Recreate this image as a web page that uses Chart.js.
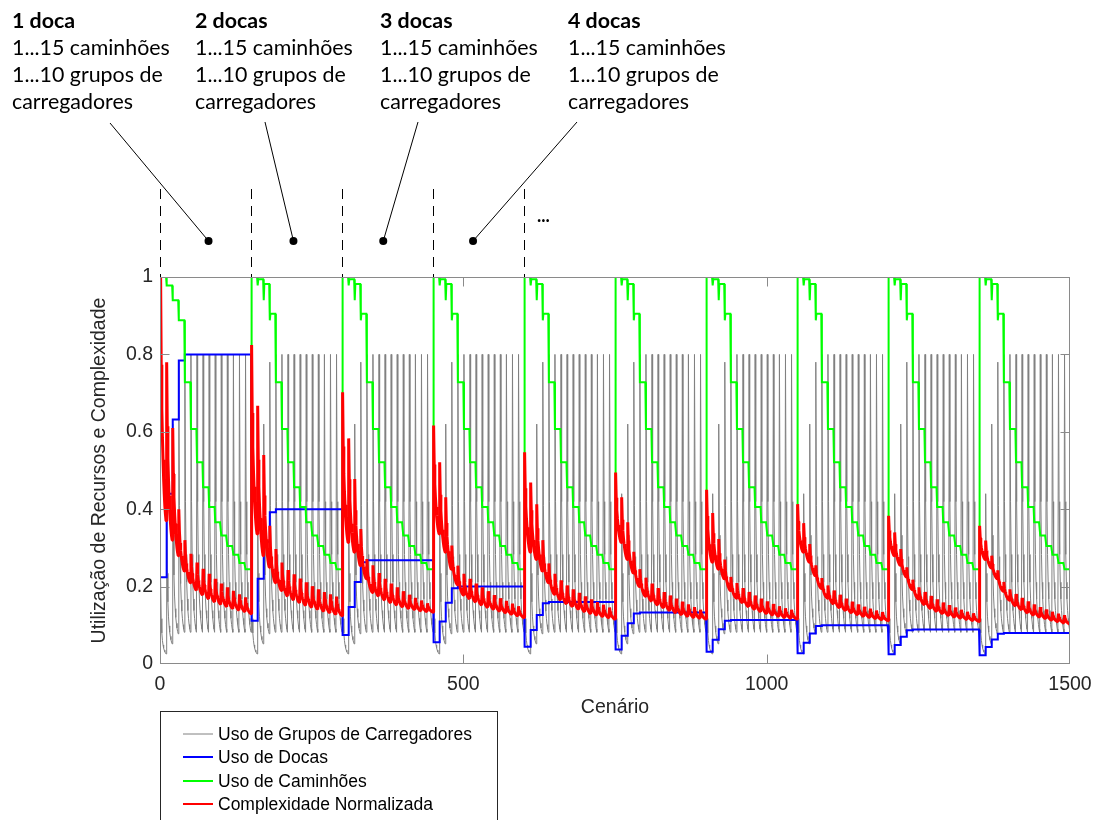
<!DOCTYPE html>
<html>
<head>
<meta charset="utf-8">
<script src="https://cdn.jsdelivr.net/npm/chart.js@4.4.1/dist/chart.umd.min.js"></script>
<style>
  html, body { margin: 0; padding: 0; background: #fff; }
  #wrap { position: relative; width: 1095px; height: 820px; }
</style>
</head>
<body>
<div id="wrap"><canvas id="grafico" width="1095" height="820"></canvas></div>
<script>
// cenários: 10 docas x 15 caminhões x 10 grupos de carregadores
const nDocas = 10, nCaminhoes = 15, nGrupos = 10;
const ticksX = [0, 500, 1000, 1500];
const ticksY = [0, 0.2, 0.4, 0.6, 0.8, 1];

// queda dentro de cada grupo de 10 cenários (1..10 grupos de carregadores)
const formaGrupo = [1, 0.47, 0.28, 0.18, 0.12, 0.078, 0.05, 0.028, 0.012, 0];
// o mesmo para a complexidade, que desce de forma mais regular
const formaComplex = [1, 0.64, 0.46, 0.34, 0.25, 0.17, 0.11, 0.06, 0.025, 0];

// uso de grupos de carregadores por nº de caminhões (1 grupo / 10 grupos)
const picoGrupos  = [0.22, 0.44, 0.62, 0.78, 0.80, 0.80, 0.80, 0.80, 0.80, 0.80, 0.80, 0.80, 0.80, 0.80, 0.80];
const fundoGrupos = [0.026, 0.052, 0.078, 0.082, 0.082, 0.082, 0.082, 0.082, 0.082, 0.082, 0.082, 0.082, 0.082, 0.082, 0.082];

// uso de docas: patamar de cada bloco e subida com os primeiros caminhões
const patamarDocas = [0.80, 0.40, 0.268, 0.20, 0.16, 0.133, 0.114, 0.10, 0.089, 0.08];
const rampaDocas = [0.28, 0.55, 0.79, 0.98, 1, 1, 1, 1, 1, 1, 1, 1, 1, 1, 1];

// uso de caminhões (1º cenário de cada grupo / demais cenários a partir de 2 docas)
const caminhoesPrimeiro = [1.00, 0.978, 0.94, 0.888, 0.728, 0.607, 0.521, 0.457, 0.406, 0.366, 0.332, 0.305, 0.282, 0.261, 0.245];
const caminhoesDemais   = [1.00, 0.994, 0.982, 0.905, 0.728, 0.607, 0.521, 0.457, 0.406, 0.366, 0.332, 0.305, 0.282, 0.261, 0.245];

// complexidade normalizada: topo (1 grupo) e base (10 grupos), uma linha por bloco de docas
const complexTopo = [
  [1.00, 0.78, 0.61, 0.40, 0.32, 0.285, 0.262, 0.246, 0.233, 0.22, 0.208, 0.198, 0.189, 0.18, 0.172],
  [0.824, 0.667, 0.54, 0.357, 0.297, 0.262, 0.243, 0.232, 0.221, 0.211, 0.201, 0.193, 0.186, 0.18, 0.174],
  [0.702, 0.583, 0.478, 0.349, 0.271, 0.255, 0.235, 0.22, 0.208, 0.198, 0.188, 0.179, 0.171, 0.164, 0.157],
  [0.616, 0.521, 0.431, 0.306, 0.254, 0.233, 0.22, 0.208, 0.198, 0.188, 0.178, 0.17, 0.163, 0.156, 0.149],
  [0.547, 0.469, 0.413, 0.32, 0.26, 0.233, 0.216, 0.203, 0.193, 0.184, 0.175, 0.167, 0.16, 0.153, 0.146],
  [0.495, 0.431, 0.366, 0.29, 0.245, 0.223, 0.208, 0.196, 0.186, 0.177, 0.169, 0.161, 0.154, 0.147, 0.14],
  [0.45, 0.39, 0.323, 0.27, 0.225, 0.209, 0.196, 0.186, 0.177, 0.169, 0.162, 0.155, 0.149, 0.144, 0.14],
  [0.413, 0.364, 0.31, 0.255, 0.222, 0.203, 0.19, 0.179, 0.169, 0.161, 0.154, 0.148, 0.143, 0.138, 0.134],
  [0.383, 0.34, 0.297, 0.25, 0.218, 0.198, 0.186, 0.176, 0.167, 0.159, 0.152, 0.146, 0.14, 0.135, 0.131],
  [0.357, 0.319, 0.28, 0.242, 0.212, 0.193, 0.181, 0.171, 0.162, 0.154, 0.147, 0.141, 0.135, 0.13, 0.126]
];
const complexBase = [
  [0.37, 0.32, 0.28, 0.24, 0.21, 0.19, 0.178, 0.168, 0.16, 0.154, 0.148, 0.143, 0.139, 0.135, 0.13],
  [0.336, 0.28, 0.25, 0.21, 0.19, 0.175, 0.165, 0.158, 0.151, 0.146, 0.141, 0.136, 0.132, 0.128, 0.125],
  [0.314, 0.289, 0.254, 0.22, 0.185, 0.175, 0.165, 0.158, 0.152, 0.147, 0.143, 0.14, 0.137, 0.135, 0.134],
  [0.336, 0.289, 0.245, 0.205, 0.178, 0.168, 0.16, 0.152, 0.146, 0.141, 0.136, 0.132, 0.128, 0.124, 0.12],
  [0.289, 0.27, 0.24, 0.21, 0.18, 0.165, 0.155, 0.148, 0.141, 0.135, 0.13, 0.126, 0.122, 0.119, 0.116],
  [0.314, 0.27, 0.235, 0.20, 0.175, 0.162, 0.152, 0.145, 0.138, 0.132, 0.127, 0.123, 0.12, 0.118, 0.116],
  [0.263, 0.245, 0.22, 0.19, 0.17, 0.158, 0.148, 0.141, 0.135, 0.13, 0.126, 0.123, 0.12, 0.118, 0.116],
  [0.289, 0.263, 0.228, 0.195, 0.17, 0.155, 0.145, 0.138, 0.132, 0.127, 0.123, 0.12, 0.117, 0.114, 0.112],
  [0.28, 0.255, 0.225, 0.192, 0.168, 0.153, 0.143, 0.136, 0.13, 0.125, 0.121, 0.118, 0.115, 0.112, 0.11],
  [0.27, 0.248, 0.22, 0.188, 0.165, 0.15, 0.14, 0.132, 0.126, 0.121, 0.117, 0.113, 0.109, 0.106, 0.103]
];

const rotulos = ['Uso de Grupos de Carregadores', 'Uso de Docas', 'Uso de Caminhões', 'Complexidade Normalizada'];
const cores = ['#808080', '#0000ff', '#00ff00', '#ff0000'];

// anotações do topo (bloco, cenário onde fica o ponto)
const blocosTexto = ['1 doca', '2 docas', '3 docas', '4 docas'];
const pontosBloco = [80, 220, 368, 516];
const limitesBloco = [0, 150, 300, 450, 600];

// montar as séries
const usoGrupos = [], usoDocas = [], usoCaminhoes = [], complexidade = [];
let cen = 1;
for (let d = 0; d < nDocas; d++) {
  for (let t = 0; t < nCaminhoes; t++) {
    for (let g = 0; g < nGrupos; g++) {
      usoGrupos.push({ x: cen, y: fundoGrupos[t] + (picoGrupos[t] - fundoGrupos[t]) * formaGrupo[g] });
      usoDocas.push({ x: cen, y: patamarDocas[d] * rampaDocas[t] });
      const cam = (d === 0 || g === 0) ? caminhoesPrimeiro[t] : caminhoesDemais[t];
      usoCaminhoes.push({ x: cen, y: cam });
      complexidade.push({ x: cen, y: complexBase[d][t] + (complexTopo[d][t] - complexBase[d][t]) * formaComplex[g] });
      cen++;
    }
  }
}

const fonteEixo = { family: "'Liberation Sans', Arial, sans-serif", size: 19.5 };
const corTexto = '#262626';

const moldura = {
  id: 'moldura',
  afterDatasetsDraw(chart) {
    const { ctx, chartArea: a, scales: { x, y } } = chart;
    ctx.save();
    ctx.strokeStyle = '#8a8a8a';
    ctx.lineWidth = 1;
    const l = Math.round(a.left) + 0.5, r = Math.round(a.right) - 0.5;
    const t = Math.round(a.top) + 0.5, b = Math.round(a.bottom) - 0.5;
    ctx.strokeRect(l, t, r - l, b - t);
    ctx.beginPath();
    ticksX.slice(1, -1).forEach(v => {
      const px = Math.round(x.getPixelForValue(v)) + 0.5;
      ctx.moveTo(px, b); ctx.lineTo(px, b - 9);
      ctx.moveTo(px, t); ctx.lineTo(px, t + 9);
    });
    ticksY.slice(1, -1).forEach(v => {
      const py = Math.round(y.getPixelForValue(v)) + 0.5;
      ctx.moveTo(l, py); ctx.lineTo(l + 9, py);
      ctx.moveTo(r, py); ctx.lineTo(r - 9, py);
    });
    ctx.stroke();
    ctx.restore();
  },
  afterDraw(chart) {
    const { ctx, scales: { x } } = chart;
    ctx.save();
    // fonte das anotações ajustada à largura da linha "1...15 caminhões"
    ctx.font = '20px Lato, sans-serif';
    const tam = 20 * 158 / ctx.measureText('1...15 caminhões').width;
    const xs = [12, 195, 380, 568];
    const origens = [[110, 123], [265, 122], [418, 122], [577, 122]];
    ctx.fillStyle = '#000';
    ctx.textBaseline = 'alphabetic';
    blocosTexto.forEach((txt, i) => {
      ctx.font = `bold ${tam}px Lato, sans-serif`;
      ctx.fillText(txt, xs[i], 27.5);
      ctx.font = `${tam}px Lato, sans-serif`;
      ctx.fillText('1...15 caminhões', xs[i], 54.5);
      ctx.fillText('1...10 grupos de', xs[i], 81.5);
      ctx.fillText('carregadores', xs[i], 108.5);
      const px = x.getPixelForValue(pontosBloco[i]);
      ctx.strokeStyle = '#000';
      ctx.lineWidth = 1;
      ctx.beginPath();
      ctx.moveTo(origens[i][0], origens[i][1]);
      ctx.lineTo(px, 241);
      ctx.stroke();
      ctx.beginPath();
      ctx.arc(px, 241, 4, 0, Math.PI * 2);
      ctx.fill();
    });
    ctx.font = `bold 18px Lato, sans-serif`;
    ctx.fillText('...', 537, 222);
    // linhas tracejadas nos limites dos blocos
    ctx.setLineDash([10, 7]);
    ctx.strokeStyle = '#000';
    ctx.lineWidth = 1;
    ctx.beginPath();
    limitesBloco.forEach(v => {
      const px = Math.round(x.getPixelForValue(v)) + 0.5;
      ctx.moveTo(px, 189); ctx.lineTo(px, 277);
    });
    ctx.stroke();
    ctx.setLineDash([]);
    // legenda
    ctx.strokeStyle = '#262626';
    ctx.strokeRect(160.5, 711.5, 337, 130);
    ctx.font = "17.5px 'Liberation Sans', Arial, sans-serif";
    ctx.textBaseline = 'middle';
    const ysLeg = [734, 757, 781, 804];
    rotulos.forEach((rt, i) => {
      ctx.strokeStyle = cores[i];
      ctx.lineWidth = i === 0 ? 1 : 2;
      ctx.beginPath();
      ctx.moveTo(183, ysLeg[i]); ctx.lineTo(213, ysLeg[i]);
      ctx.stroke();
      ctx.fillStyle = '#000';
      ctx.fillText(rt, 218, ysLeg[i] + 1);
    });
    ctx.restore();
  }
};

new Chart(document.getElementById('grafico'), {
  type: 'line',
  data: {
    datasets: [
      { label: rotulos[3], data: complexidade, borderColor: cores[3], borderWidth: 3, borderJoinStyle: 'bevel' },
      { label: rotulos[2], data: usoCaminhoes, borderColor: cores[2], borderWidth: 2 },
      { label: rotulos[1], data: usoDocas, borderColor: cores[1], borderWidth: 2 },
      { label: rotulos[0], data: usoGrupos, borderColor: cores[0], borderWidth: 1, borderJoinStyle: 'round' }
    ]
  },
  options: {
    responsive: false,
    animation: false,
    events: [],
    parsing: false,
    normalized: true,
    datasets: { line: { pointRadius: 0, tension: 0, fill: false } },
    layout: { padding: { left: 80, right: 25, top: 277, bottom: 96 } },
    plugins: { legend: { display: false }, tooltip: { enabled: false } },
    scales: {
      x: {
        type: 'linear', min: 0, max: 1500,
        afterBuildTicks: s => { s.ticks = ticksX.map(v => ({ value: v })); },
        afterFit: s => { s.height = 60; s.paddingLeft = 0; s.paddingRight = 0; },
        grid: { display: false, drawTicks: false },
        border: { display: false },
        ticks: { padding: 9, maxRotation: 0, font: fonteEixo, color: corTexto, callback: v => String(v) },
        title: { display: true, text: 'Cenário', font: fonteEixo, color: corTexto, padding: { top: 0, bottom: 5 } }
      },
      y: {
        type: 'linear', min: 0, max: 1,
        afterBuildTicks: s => { s.ticks = ticksY.map(v => ({ value: v })); },
        afterFit: s => { s.width = 80; s.paddingTop = 0; s.paddingBottom = 0; },
        grid: { display: false, drawTicks: false },
        border: { display: false },
        ticks: { padding: 7, font: fonteEixo, color: corTexto, callback: v => String(v) },
        title: { display: true, text: 'Utilização de Recursos e Complexidade', font: fonteEixo, color: corTexto, padding: { top: 8, bottom: 0 } }
      }
    }
  },
  plugins: [moldura]
});
</script>
</body>
</html>
